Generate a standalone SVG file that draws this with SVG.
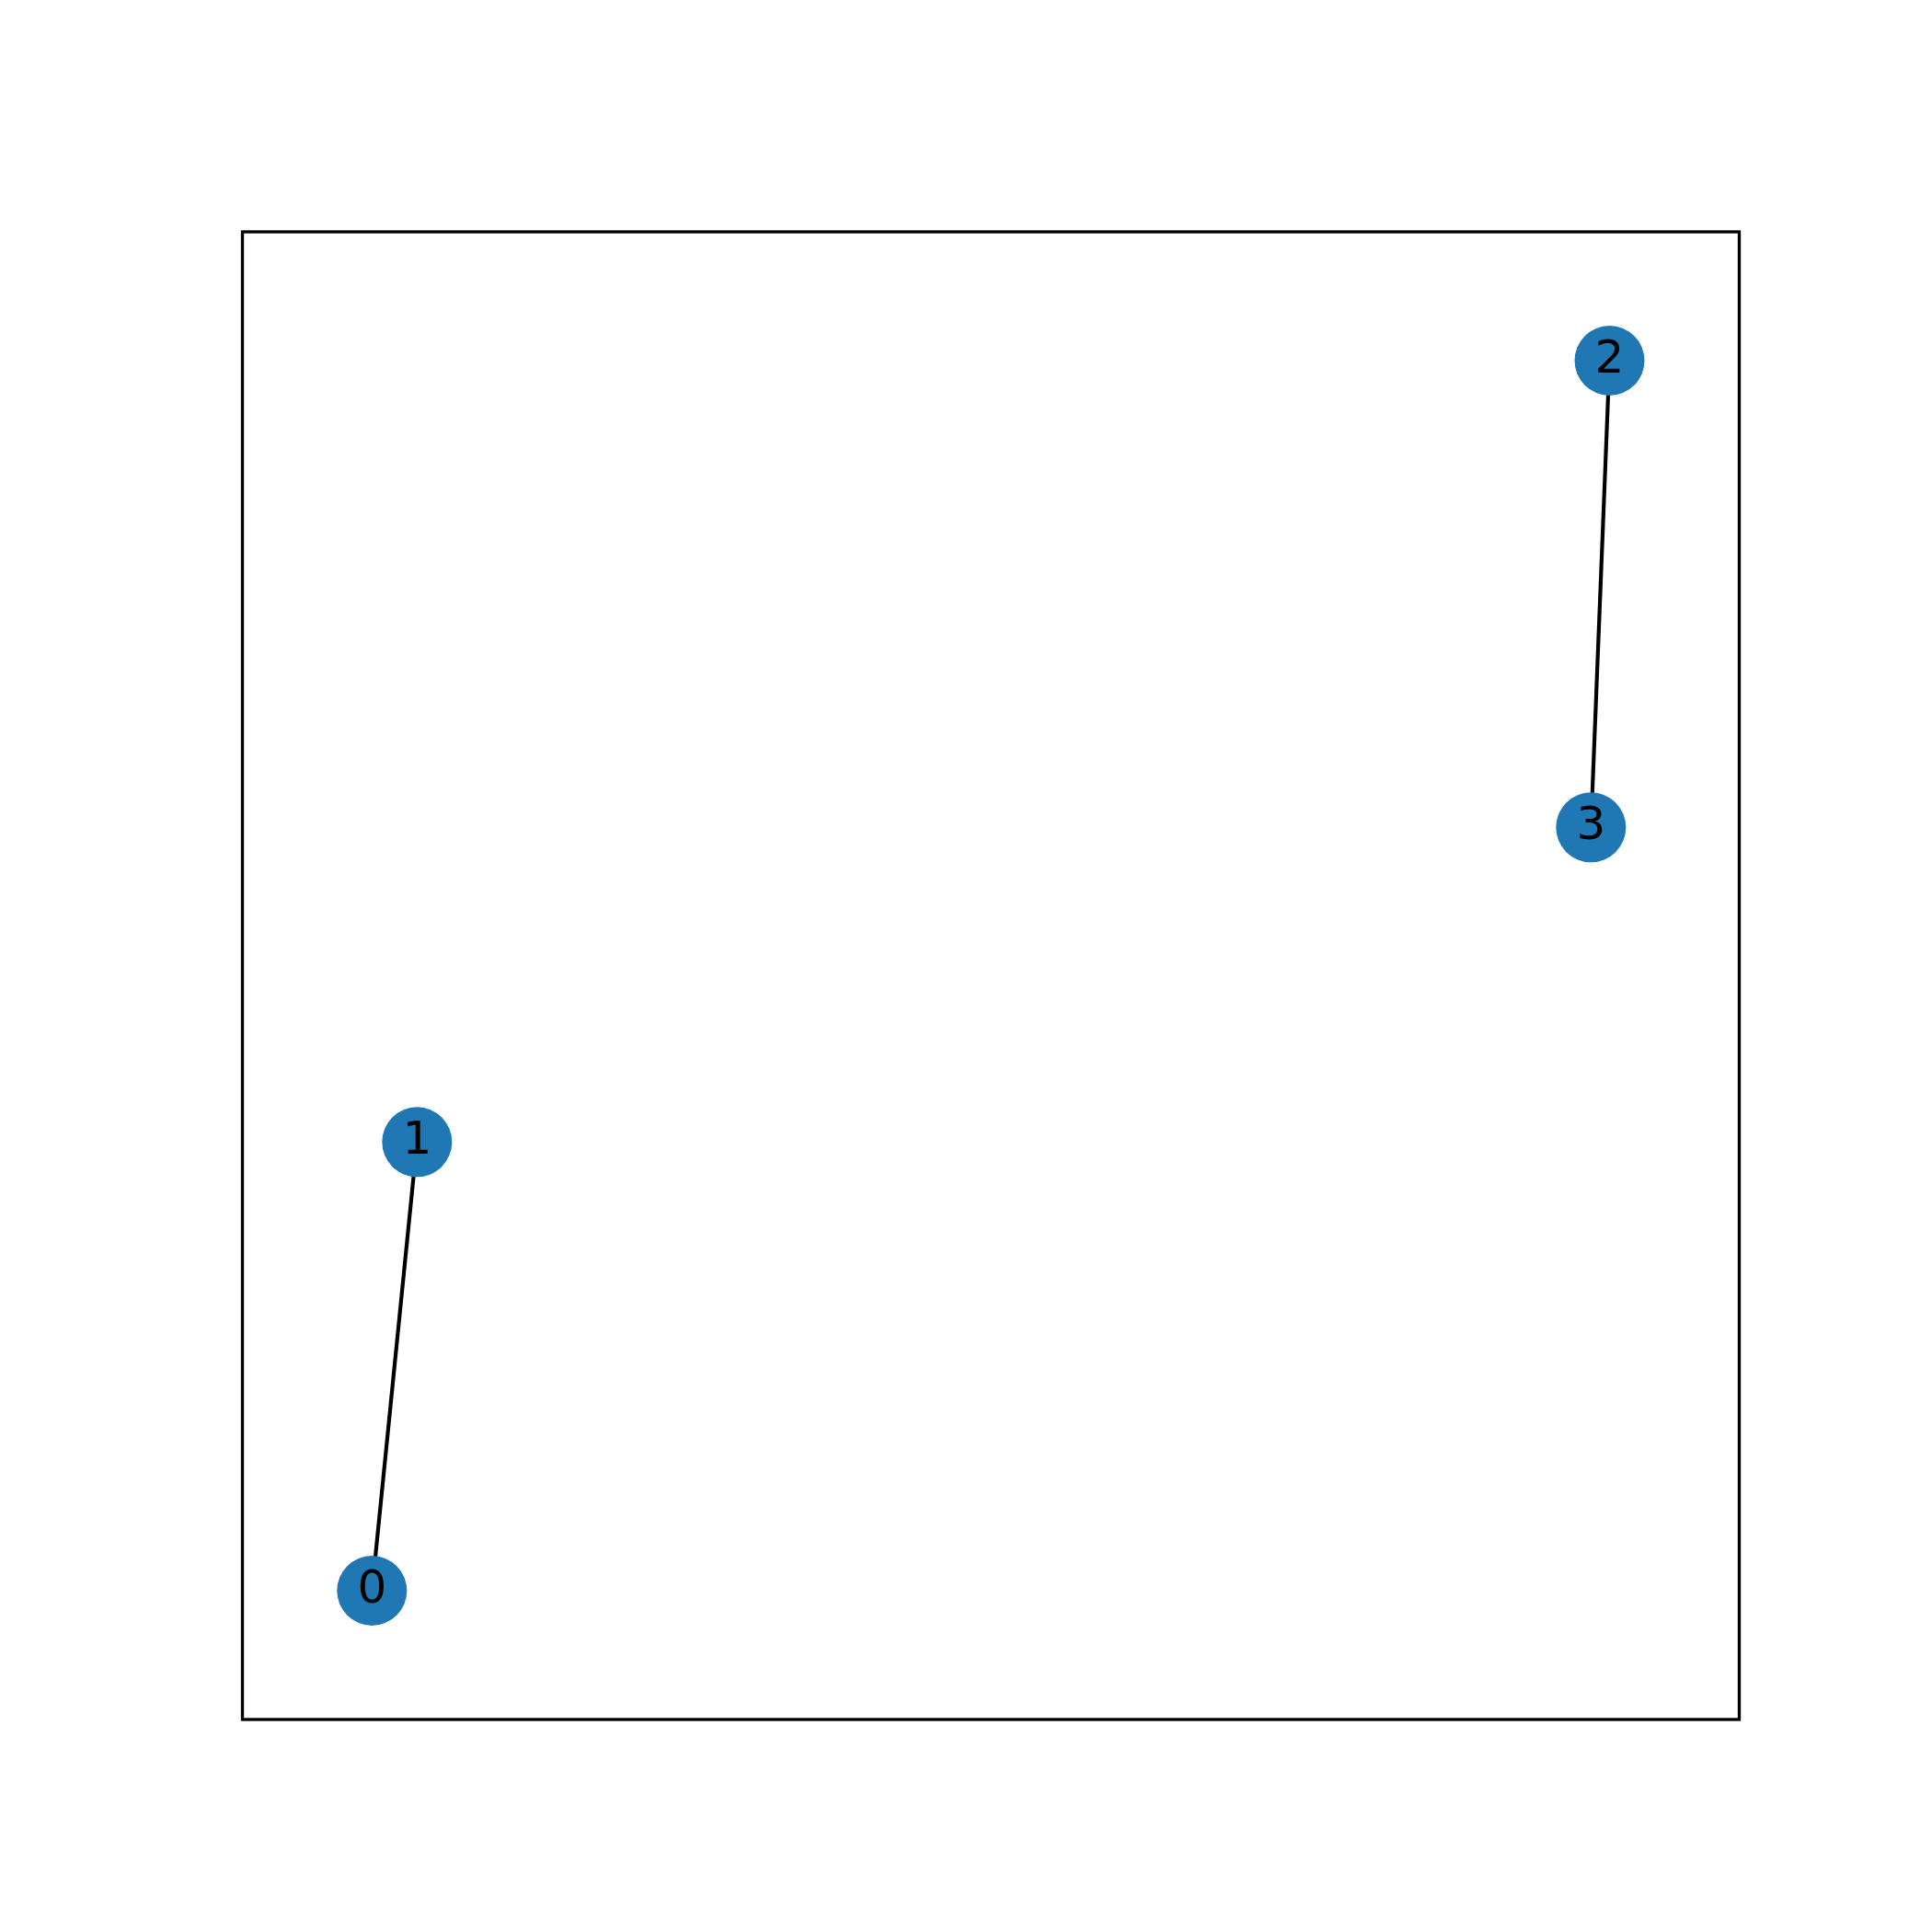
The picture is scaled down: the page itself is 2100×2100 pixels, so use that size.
<svg xmlns="http://www.w3.org/2000/svg" width="2100" height="2100" viewBox="0 0 2100 2100">
<style>
.node circle{fill:#1f77b4;stroke:none}
.node text{font-family:"DejaVu Sans",sans-serif;font-size:50px;fill:#000;text-anchor:middle}
.edges line{stroke:#000;stroke-width:4.17;stroke-linecap:butt}
</style>
<rect x="0" y="0" width="2100" height="2100" fill="#fff"/>
<rect x="263.5" y="252" width="1627" height="1617" fill="none" stroke="#000" stroke-width="3.33"/>
<g id="edges" class="edges">
<line x1="404.3" y1="1729" x2="453.3" y2="1241.3"/>
<line x1="1749.5" y1="392" x2="1729.3" y2="899.3"/>
</g>
<g id="node0" class="node"><circle cx="404.3" cy="1729" r="38"/><text x="404.3" y="1741.5">0</text></g>
<g id="node1" class="node"><circle cx="453.3" cy="1241.3" r="38"/><text x="453.3" y="1253.8">1</text></g>
<g id="node2" class="node"><circle cx="1749.5" cy="392" r="38"/><text x="1749.5" y="404.5">2</text></g>
<g id="node3" class="node"><circle cx="1729.3" cy="899.3" r="38"/><text x="1729.3" y="911.8">3</text></g>
</svg>
